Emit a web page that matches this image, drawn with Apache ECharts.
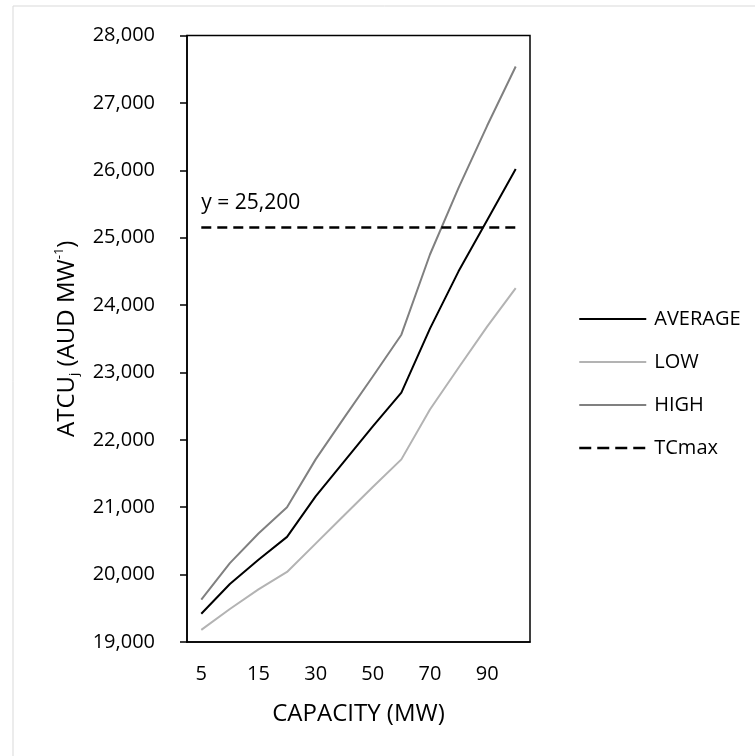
<!DOCTYPE html>
<html>
<head>
<meta charset="utf-8">
<script src="https://cdn.jsdelivr.net/npm/echarts@6/dist/echarts.min.js"></script>
<style>
  html, body { margin: 0; padding: 0; background: #fff; }
  #chart { width: 755px; height: 756px; }
</style>
</head>
<body>
<div id="chart"></div>
<script>
const capacity = ['5', '10', '15', '20', '30', '40', '50', '60', '70', '80', '90', '100']
const average = [19420, 19860, 20220, 20560, 21160, 21680, 22200, 22700, 23650, 24500, 25260, 26020]
const low     = [19180, 19490, 19780, 20040, 20460, 20880, 21300, 21710, 22450, 23070, 23680, 24250]
const high    = [19630, 20170, 20610, 21000, 21710, 22330, 22940, 23560, 24750, 25740, 26660, 27540]
const tcmax   = [25150, 25150, 25150, 25150, 25150, 25150, 25150, 25150, 25150, 25150, 25150, 25150]
const tcmaxLabel = 'y = 25,200'

const font = '"Open Sans", sans-serif'
const chart = echarts.init(document.getElementById('chart'), null, { renderer: 'canvas' })

const lineSeries = (name, data, color, extra) => Object.assign({
  name,
  type: 'line',
  data,
  symbol: 'none',
  lineStyle: { color, width: 2 },
  itemStyle: { color },
  z: 3,
}, extra || {})

chart.setOption({
  backgroundColor: '#fff',
  animation: false,
  textStyle: { fontFamily: font },
  graphic: [{
    type: 'rect',
    shape: { x: 13, y: 6, width: 800, height: 800 },
    style: { fill: 'none', stroke: '#d9d9d9', lineWidth: 1 },
    silent: true,
  }],
  grid: {
    left: 187, right: 225, top: 35.5, bottom: 114,
    show: true, borderColor: '#000', borderWidth: 1.5, backgroundColor: 'transparent',
  },
  legend: {
    orient: 'vertical',
    left: 573, top: 304,
    itemWidth: 67, itemHeight: 22, itemGap: 23,
    itemStyle: { opacity: 0 },
    lineStyle: { width: 2 },
    textStyle: { color: '#000', fontSize: 20, fontFamily: font, padding: [0, 0, 0, 3] },
    data: ['AVERAGE', 'LOW', 'HIGH', { name: 'TCmax', lineStyle: { width: 2.5, type: [12, 6] } }],
  },
  xAxis: {
    type: 'category',
    data: capacity,
    boundaryGap: true,
    name: 'CAPACITY (MW)',
    nameLocation: 'middle',
    nameGap: 60,
    nameTextStyle: { color: '#000', fontSize: 24, fontFamily: font },
    axisLine: { lineStyle: { color: '#000', width: 1.5 } },
    axisTick: { alignWithLabel: true, interval: 0, length: 6, lineStyle: { color: '#000', width: 1.5 } },
    axisLabel: { interval: 1, color: '#000', fontSize: 20, margin: 22, fontFamily: font },
    splitLine: { show: false },
  },
  yAxis: {
    type: 'value',
    min: 19000, max: 28000, interval: 1000,
    name: '{a|ATCU}{sub|j}{a| (AUD MW}{sup|-1}{a|)}',
    nameLocation: 'middle',
    nameRotate: 90,
    nameGap: 106,
    nameTextStyle: {
      color: '#000', fontSize: 24, fontFamily: font,
      rich: {
        a: { fontSize: 24, lineHeight: 28, color: '#000', fontFamily: font },
        sub: { fontSize: 13, lineHeight: 13, verticalAlign: 'bottom', color: '#000', fontFamily: font },
        sup: { fontSize: 13, lineHeight: 13, verticalAlign: 'top', color: '#000', fontFamily: font },
      },
    },
    axisLine: { show: true, lineStyle: { color: '#000', width: 1.5 } },
    axisTick: { show: true, length: 7, lineStyle: { color: '#000', width: 1.5 } },
    axisLabel: {
      color: '#000', fontSize: 20, margin: 32, fontFamily: font,
      formatter: v => v.toLocaleString('en-US'),
    },
    splitLine: { show: false },
  },
  series: [
    lineSeries('AVERAGE', average, '#000000', { z: 5 }),
    lineSeries('LOW', low, '#b3b3b3'),
    lineSeries('HIGH', high, '#808080'),
    lineSeries('TCmax', tcmax, '#000000', {
      lineStyle: { color: '#000', width: 2.5, type: [10, 6] },
      z: 4,
      markPoint: {
        symbol: 'circle',
        symbolSize: 0,
        data: [{ coord: [0, tcmax[0]] }],
        label: {
          show: true, position: 'inside', align: 'left',
          offset: [0, -25],
          color: '#000', fontSize: 21, fontFamily: font,
          formatter: tcmaxLabel,
        },
      },
    }),
  ],
})
</script>
</body>
</html>
